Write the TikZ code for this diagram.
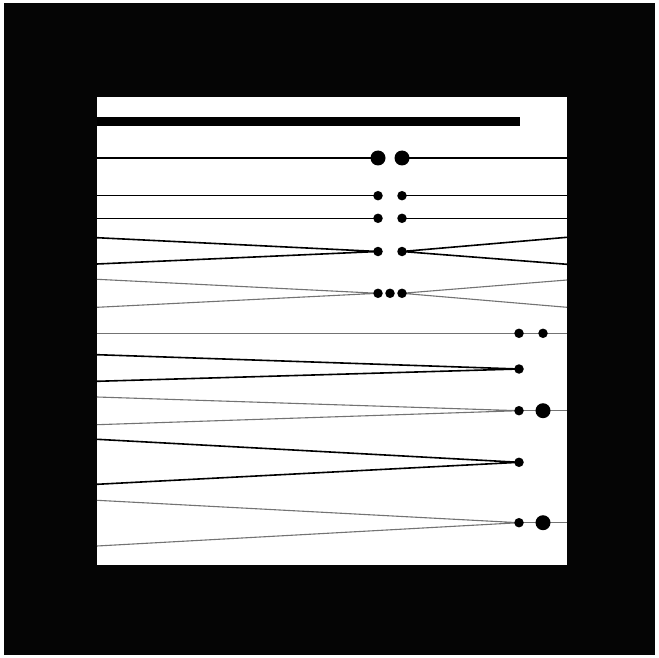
\documentclass[tikz,border=0pt]{standalone}
\begin{document}
\begin{tikzpicture}[x=1pt,y=-1pt,
  blk/.style={line width=1.6pt,black},
  gry/.style={line width=1.1pt,black!55},
  sdot/.style={circle,fill=black,inner sep=0pt,minimum size=9.5pt},
  bdot/.style={circle,fill=black,inner sep=0pt,minimum size=15pt}]
\useasboundingbox (0,0) rectangle (659,658);
\fill[black!98] (4,3) rectangle (655,655);
\fill[white] (97,97) rectangle (567,565);
\fill[black] (97,117.5) rectangle (520,126.5);
% coordinates
\def\xl{97}\def\xr{567}\def\xa{378}\def\xb{402}\def\xm{390}\def\xc{519}\def\xd{543}
% row 1
\coordinate (l1) at (\xl,158); \coordinate (r1) at (\xr,158);
\draw[blk] (l1) -- (\xa,158) coordinate (d1a);
\draw[blk] (\xb,158) coordinate (d1b) -- (r1);
\node[bdot] (n1a) at (d1a) {}; \node[bdot] (n1b) at (d1b) {};
% row 2
\coordinate (l2) at (\xl,195.7); \coordinate (r2) at (\xr,195.7);
\coordinate (d2a) at (\xa,195.7); \coordinate (d2b) at (\xb,195.7);
\draw[blk] (l2) -- (d2a); \draw[blk] (d2b) -- (r2);
\node[sdot] at (d2a) {}; \node[sdot] at (d2b) {};
% row 3
\coordinate (l3) at (\xl,218.3); \coordinate (r3) at (\xr,218.3);
\coordinate (d3a) at (\xa,218.3); \coordinate (d3b) at (\xb,218.3);
\draw[blk] (l3) -- (d3a); \draw[blk] (d3b) -- (r3);
\node[sdot] at (d3a) {}; \node[sdot] at (d3b) {};
% row 4 wedge
\coordinate (l4t) at (\xl,237.7); \coordinate (l4b) at (\xl,264);
\coordinate (r4t) at (\xr,237.3); \coordinate (r4b) at (\xr,264.3);
\coordinate (d4a) at (\xa,251.5); \coordinate (d4b) at (\xb,251.5);
\draw[blk] (l4t) -- (d4a) -- (l4b);
\draw[blk] (r4t) -- (d4b) -- (r4b);
\node[sdot] at (d4a) {}; \node[sdot] at (d4b) {};
% row 5 gray wedge with three dots
\coordinate (l5t) at (\xl,279.3); \coordinate (l5b) at (\xl,307.3);
\coordinate (r5t) at (\xr,280); \coordinate (r5b) at (\xr,307.3);
\coordinate (d5a) at (\xa,293.3); \coordinate (d5m) at (\xm,293.3); \coordinate (d5b) at (\xb,293.3);
\draw[gry] (l5t) -- (d5a) -- (l5b);
\draw[gry] (r5t) -- (d5b) -- (r5b);
\node[sdot] at (d5a) {}; \node[sdot] at (d5m) {}; \node[sdot] at (d5b) {};
% row 6 gray line
\coordinate (l6) at (\xl,333.3); \coordinate (r6) at (\xr,333.3);
\coordinate (d6a) at (\xc,333.3); \coordinate (d6b) at (\xd,333.3);
\draw[gry] (l6) -- (d6a) -- (d6b) -- (r6);
\node[sdot] at (d6a) {}; \node[sdot] at (d6b) {};
% row 7 black wedge
\coordinate (l7t) at (\xl,354.7); \coordinate (l7b) at (\xl,381.3);
\coordinate (d7) at (\xc,369);
\draw[blk] (l7t) -- (d7) -- (l7b);
\node[sdot] at (d7) {};
% row 8 gray wedge
\coordinate (l8t) at (\xl,397); \coordinate (l8b) at (\xl,424.7);
\coordinate (d8a) at (\xc,410.7); \coordinate (d8b) at (\xd,410.7); \coordinate (r8) at (\xr,410.7);
\draw[gry] (l8t) -- (d8a) -- (l8b);
\draw[gry] (d8a) -- (d8b) -- (r8);
\node[sdot] at (d8a) {}; \node[bdot] at (d8b) {};
% row 9 black wedge
\coordinate (l9t) at (\xl,439.3); \coordinate (l9b) at (\xl,484.3);
\coordinate (d9) at (\xc,462.3);
\draw[blk] (l9t) -- (d9) -- (l9b);
\node[sdot] at (d9) {};
% row 10 gray wedge
\coordinate (l10t) at (\xl,500.3); \coordinate (l10b) at (\xl,546);
\coordinate (d10a) at (\xc,522.7); \coordinate (d10b) at (\xd,522.7); \coordinate (r10) at (\xr,522.7);
\draw[gry] (l10t) -- (d10a) -- (l10b);
\draw[gry] (d10a) -- (d10b) -- (r10);
\node[sdot] at (d10a) {}; \node[bdot] at (d10b) {};
\end{tikzpicture}
\end{document}
